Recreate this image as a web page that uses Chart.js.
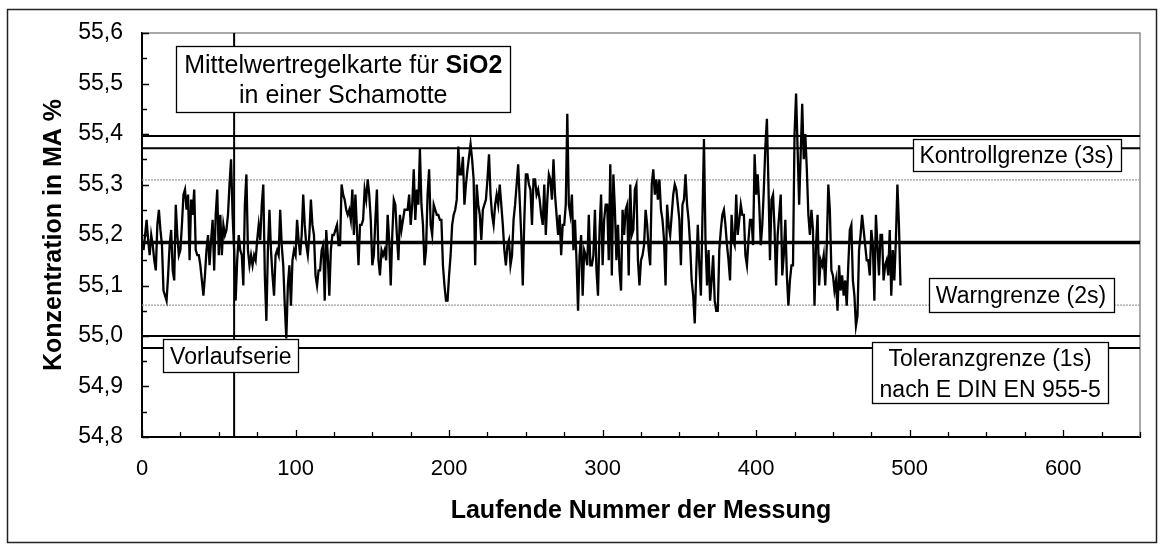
<!DOCTYPE html>
<html lang="de">
<head>
<meta charset="utf-8">
<title>Mittelwertregelkarte SiO2</title>
<script src="https://cdn.jsdelivr.net/npm/chart.js@4.4.1/dist/chart.umd.min.js"></script>
<style>
  html, body { margin: 0; padding: 0; background: #fff; }
  canvas { display: block; }
</style>
</head>
<body>
<canvas id="regelkarte" width="1164" height="551"></canvas>
<script>
// SiO2-Gehalte in MA %, laufende Nummer ab 1
const siO2 = [
  55.17, 55.20, 55.23, 55.19, 55.16, 55.20, 55.18, 55.15, 55.13, 55.22,
  55.25, 55.21, 55.18, 55.09, 55.08, 55.07, 55.12, 55.18, 55.21, 55.13,
  55.11, 55.26, 55.20, 55.16, 55.17, 55.22, 55.28, 55.29, 55.25, 55.28,
  55.15, 55.27, 55.24, 55.29, 55.17, 55.16, 55.16, 55.14, 55.11, 55.08,
  55.12, 55.17, 55.20, 55.14, 55.19, 55.23, 55.13, 55.24, 55.29, 55.16,
  55.24, 55.16, 55.22, 55.20, 55.21, 55.24, 55.30, 55.35, 55.24, 55.17,
  55.07, 55.15, 55.20, 55.17, 55.16, 55.10, 55.26, 55.32, 55.17, 55.14,
  55.16, 55.14, 55.16, 55.15, 55.19, 55.22, 55.19, 55.26, 55.30, 55.12,
  55.03, 55.17, 55.25, 55.17, 55.12, 55.08, 55.16, 55.17, 55.16, 55.25,
  55.18, 55.14, 55.06, 54.995, 55.10, 55.14, 55.06, 55.15, 55.17, 55.16,
  55.23, 55.19, 55.16, 55.20, 55.28, 55.22, 55.18, 55.16, 55.20, 55.27,
  55.22, 55.20, 55.12, 55.10, 55.13, 55.13, 55.17, 55.18, 55.07, 55.21,
  55.16, 55.08, 55.17, 55.20, 55.20, 55.21, 55.22, 55.18, 55.18, 55.30,
  55.28, 55.27, 55.25, 55.24, 55.25, 55.23, 55.29, 55.20, 55.28, 55.21,
  55.14, 55.22, 55.22, 55.23, 55.29, 55.27, 55.31, 55.28, 55.23, 55.14,
  55.16, 55.23, 55.29, 55.15, 55.12, 55.17, 55.16, 55.17, 55.15, 55.24,
  55.19, 55.10, 55.20, 55.27, 55.26, 55.20, 55.15, 55.24, 55.21, 55.23,
  55.25, 55.25, 55.25, 55.28, 55.22, 55.26, 55.33, 55.23, 55.29, 55.26,
  55.37, 55.26, 55.22, 55.14, 55.17, 55.28, 55.33, 55.22, 55.20, 55.26,
  55.25, 55.24, 55.24, 55.23, 55.23, 55.14, 55.10, 55.07, 55.07, 55.12,
  55.16, 55.22, 55.24, 55.25, 55.27, 55.375, 55.32, 55.32, 55.355, 55.26,
  55.30, 55.33, 55.355, 55.38, 55.35, 55.31, 55.14, 55.30, 55.26, 55.24,
  55.19, 55.25, 55.26, 55.27, 55.31, 55.36, 55.28, 55.24, 55.22, 55.26,
  55.28, 55.26, 55.30, 55.26, 55.22, 55.17, 55.14, 55.18, 55.19, 55.14,
  55.16, 55.23, 55.26, 55.30, 55.34, 55.27, 55.20, 55.10, 55.23, 55.32,
  55.32, 55.30, 55.29, 55.22, 55.31, 55.31, 55.28, 55.29, 55.27, 55.24,
  55.22, 55.30, 55.20, 55.27, 55.32, 55.31, 55.27, 55.35, 55.28, 55.24,
  55.20, 55.24, 55.16, 55.22, 55.22, 55.26, 55.44, 55.26, 55.24, 55.28,
  55.17, 55.23, 55.15, 55.05, 55.16, 55.20, 55.08, 55.17, 55.16, 55.14,
  55.24, 55.14, 55.14, 55.16, 55.25, 55.13, 55.08, 55.21, 55.28, 55.14,
  55.23, 55.26, 55.26, 55.15, 55.34, 55.12, 55.32, 55.25, 55.15, 55.22,
  55.13, 55.09, 55.25, 55.20, 55.25, 55.26, 55.12, 55.30, 55.20, 55.21,
  55.29, 55.30, 55.15, 55.10, 55.15, 55.16, 55.18, 55.25, 55.22, 55.17,
  55.14, 55.30, 55.33, 55.28, 55.31, 55.27, 55.31, 55.25, 55.23, 55.19,
  55.10, 55.26, 55.22, 55.20, 55.24, 55.28, 55.30, 55.29, 55.26, 55.23,
  55.14, 55.26, 55.27, 55.32, 55.26, 55.23, 55.18, 55.11, 55.08, 55.025,
  55.13, 55.22, 55.14, 55.08, 55.23, 55.39, 55.19, 55.10, 55.17, 55.07,
  55.11, 55.16, 55.07, 55.05, 55.05, 55.17, 55.21, 55.24, 55.25, 55.22,
  55.18, 55.15, 55.11, 55.24, 55.19, 55.18, 55.28, 55.20, 55.23, 55.26,
  55.24, 55.24, 55.16, 55.14, 55.19, 55.23, 55.23, 55.18, 55.36, 55.28,
  55.32, 55.26, 55.18, 55.22, 55.29, 55.375, 55.43, 55.30, 55.15, 55.27,
  55.28, 55.21, 55.10, 55.20, 55.24, 55.28, 55.12, 55.16, 55.23, 55.12,
  55.06, 55.11, 55.14, 55.14, 55.40, 55.48, 55.37, 55.26, 55.36, 55.46,
  55.35, 55.40, 55.33, 55.24, 55.20, 55.25, 55.21, 55.06, 55.18, 55.24,
  55.10, 55.15, 55.14, 55.16, 55.10, 55.18, 55.30, 55.25, 55.13, 55.12,
  55.09, 55.11, 55.05, 55.14, 55.09, 55.12, 55.08, 55.11, 55.06, 55.14,
  55.21, 55.22, 55.11, 55.08, 55.02, 55.04, 55.17, 55.20, 55.24, 55.21,
  55.18, 55.15, 55.15, 55.12, 55.21, 55.18, 55.07, 55.24, 55.18, 55.12,
  55.20, 55.20, 55.11, 55.14, 55.15, 55.12, 55.21, 55.08, 55.17, 55.11,
  55.19, 55.30, 55.22, 55.10
];
const ersteNummer = 1;

// Regelgrenzen (MA %)
const mittelwert = 55.185;
const warngrenzen = [55.061, 55.309];
const kontrollgrenzen = [55.000, 55.372];
const toleranzgrenzen = [54.976, 55.396];

// Ende der Vorlaufserie (laufende Nummer)
const vorlaufEnde = 60;

// Achsenbereiche
const xBereich = [0, 650];
const yBereich = [54.8, 55.6];

const FONT = "'Liberation Sans', Arial, Helvetica, sans-serif";
Chart.defaults.font.family = FONT;
Chart.defaults.color = '#000';

function horizontal(wert, farbe, breite, dash) {
  return {
    data: [{ x: xBereich[0], y: wert }, { x: xBereich[1], y: wert }],
    borderColor: farbe,
    borderWidth: breite,
    borderDash: dash || [],
    pointRadius: 0,
    fill: false
  };
}

const datasets = [
  {
    label: 'SiO2',
    data: siO2.map(function (v, i) { return { x: ersteNummer + i, y: v }; }),
    borderColor: '#000',
    borderWidth: 2.3,
    pointRadius: 0,
    tension: 0,
    fill: false
  },
  horizontal(mittelwert, '#000', 3.5),
  {
    data: [{ x: vorlaufEnde, y: yBereich[0] }, { x: vorlaufEnde, y: yBereich[1] }],
    borderColor: '#000',
    borderWidth: 2,
    pointRadius: 0,
    fill: false
  }
];
kontrollgrenzen.forEach(function (v) { datasets.push(horizontal(v, '#000', 2)); });
toleranzgrenzen.forEach(function (v) { datasets.push(horizontal(v, '#000', 2)); });
warngrenzen.forEach(function (v) { datasets.push(horizontal(v, '#a0a0a0', 1.2, [2, 1])); });

// Beschriftungskästen, verankert in Datenkoordinaten
const kaesten = [
  { x: 131.1, y: 55.5095, w: 334, h: 66, size: 25, dy: [-14.7, 15.3],
    lines: [[['Mittelwertregelkarte für ', false], ['SiO2', true]], [['in einer Schamotte', false]]] },
  { x: 57.85, y: 54.9614, w: 135, h: 33, size: 23, dy: [0],
    lines: [[['Vorlaufserie', false]]] },
  { x: 569.6, y: 55.3584, w: 208, h: 32, size: 23, dy: [0],
    lines: [[['Kontrollgrenze (3s)', false]]] },
  { x: 572.5, y: 55.0812, w: 185, h: 34, size: 23, dy: [0],
    lines: [[['Warngrenze (2s)', false]]] },
  { x: 552.4, y: 54.9283, w: 236, h: 61, size: 23, dy: [-14, 17],
    lines: [[['Toleranzgrenze (1s)', false]], [['nach E DIN EN 955-5', false]]] }
];

const rahmen = {
  id: 'rahmen',
  beforeDraw: function (chart) {
    const ctx = chart.ctx;
    ctx.save();
    ctx.fillStyle = '#fff';
    ctx.fillRect(0, 0, chart.width, chart.height);
    ctx.strokeStyle = '#222';
    ctx.lineWidth = 1.5;
    ctx.strokeRect(7.5, 9.5, 1149, 533);
    ctx.restore();
  },
  beforeDatasetsDraw: function (chart) {
    const ctx = chart.ctx, a = chart.chartArea;
    ctx.save();
    ctx.strokeStyle = '#8a8a8a';
    ctx.lineWidth = 1.5;
    ctx.beginPath();
    ctx.moveTo(a.left, a.top);
    ctx.lineTo(a.right, a.top);
    ctx.lineTo(a.right, a.bottom);
    ctx.stroke();
    ctx.restore();
  },
  afterDatasetsDraw: function (chart) {
    const ctx = chart.ctx, a = chart.chartArea;
    const sx = chart.scales.x, sy = chart.scales.y;
    ctx.save();
    ctx.strokeStyle = '#000';
    ctx.lineWidth = 1.3;
    ctx.beginPath();
    // nach innen zeigende Teilstriche
    for (let v = xBereich[0]; v <= xBereich[1]; v += 25) {
      const px = Math.round(sx.getPixelForValue(v)) + 0.5;
      const len = v % 100 === 0 ? 7 : 5;
      ctx.moveTo(px, a.bottom);
      ctx.lineTo(px, a.bottom - len);
    }
    for (let i = 0; i <= 16; i++) {
      const py = Math.round(sy.getPixelForValue(yBereich[0] + i * 0.05)) + 0.5;
      const len = i % 2 === 0 ? 7 : 5;
      ctx.moveTo(a.left, py);
      ctx.lineTo(a.left + len, py);
    }
    ctx.stroke();

    // Textkästen
    kaesten.forEach(function (k) {
      const cx = sx.getPixelForValue(k.x);
      const cy = sy.getPixelForValue(k.y);
      const l = Math.round(cx - k.w / 2) + 0.5;
      const t = Math.round(cy - k.h / 2) + 0.5;
      ctx.fillStyle = '#fff';
      ctx.fillRect(l, t, k.w, k.h);
      ctx.strokeStyle = '#000';
      ctx.lineWidth = 1.3;
      ctx.strokeRect(l, t, k.w, k.h);
      ctx.fillStyle = '#000';
      ctx.textBaseline = 'alphabetic';
      ctx.textAlign = 'left';
      k.lines.forEach(function (teile, j) {
        let breite = 0;
        teile.forEach(function (p) {
          ctx.font = (p[1] ? 'bold ' : '') + k.size + 'px ' + FONT;
          breite += ctx.measureText(p[0]).width;
        });
        let x = cx - breite / 2;
        const base = cy + k.dy[j] + 0.358 * k.size;
        teile.forEach(function (p) {
          ctx.font = (p[1] ? 'bold ' : '') + k.size + 'px ' + FONT;
          ctx.fillText(p[0], x, base);
          x += ctx.measureText(p[0]).width;
        });
      });
    });
    ctx.restore();
  }
};

new Chart(document.getElementById('regelkarte'), {
  type: 'line',
  data: { datasets: datasets },
  options: {
    responsive: false,
    animation: false,
    devicePixelRatio: 1,
    layout: { padding: { left: 0, top: 33, right: 24, bottom: 0 } },
    plugins: { legend: { display: false }, tooltip: { enabled: false } },
    scales: {
      x: {
        type: 'linear',
        min: xBereich[0],
        max: xBereich[1],
        afterFit: function (s) { s.height = 114; },
        grid: { display: false, drawTicks: false },
        border: { color: '#000', width: 2 },
        ticks: {
          stepSize: 100,
          includeBounds: false,
          padding: 19,
          maxRotation: 0,
          font: { size: 22 },
          color: '#000'
        },
        title: {
          display: true,
          text: 'Laufende Nummer der Messung',
          font: { size: 25, weight: 'bold' },
          color: '#000',
          padding: { top: 0, bottom: 25 }
        }
      },
      y: {
        min: yBereich[0],
        max: yBereich[1],
        afterFit: function (s) { s.width = 142; },
        grid: { display: false, drawTicks: false },
        border: { color: '#000', width: 2 },
        ticks: {
          stepSize: 0.1,
          padding: 19,
          font: { size: 23 },
          color: '#000',
          callback: function (v) { return Number(v).toFixed(1).replace('.', ','); }
        },
        title: {
          display: true,
          text: 'Konzentration in MA %',
          font: { size: 25, weight: 'bold' },
          color: '#000',
          padding: { top: 39, bottom: 0 }
        }
      }
    }
  },
  plugins: [rahmen]
});
</script>
</body>
</html>
